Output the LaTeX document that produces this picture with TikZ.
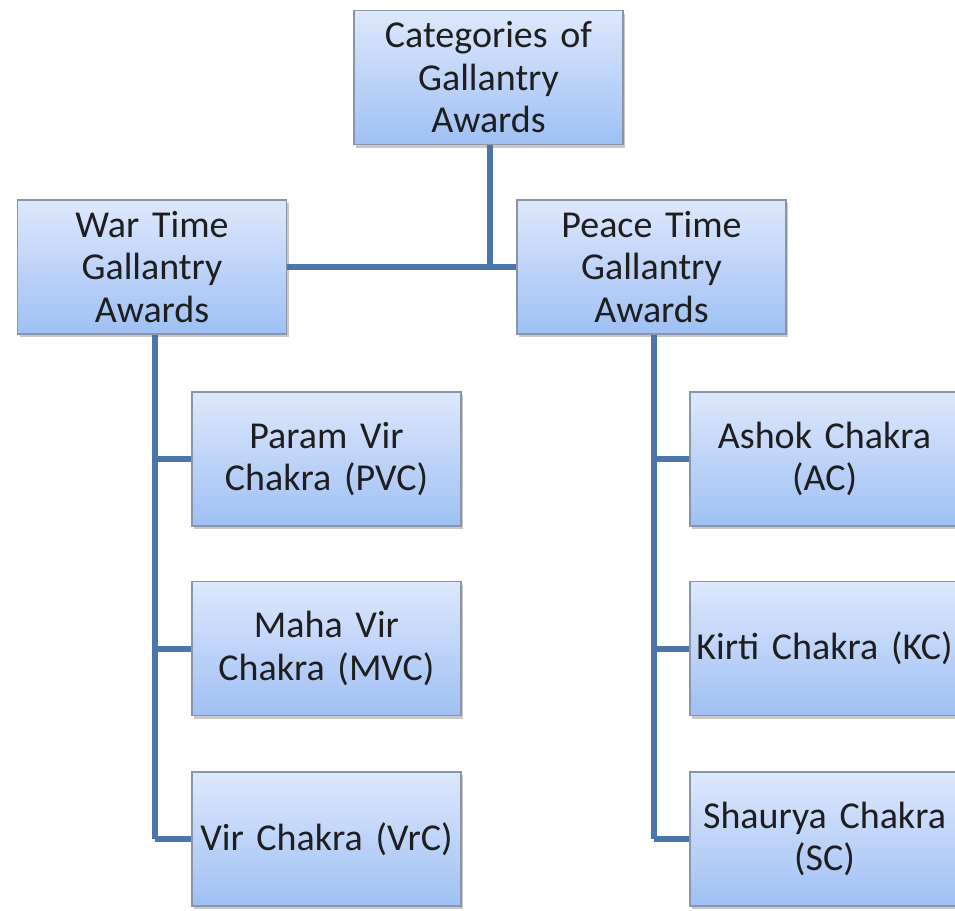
\documentclass[tikz,border=0pt]{standalone}
\usepackage{fontspec}
\setmainfont{Carlito}
\usetikzlibrary{shadows,backgrounds,calc}
\definecolor{boxtop}{HTML}{DDE8FC}
\definecolor{boxbot}{HTML}{9FC0F4}
\definecolor{boxline}{HTML}{8A96A8}
\definecolor{conncol}{HTML}{4A76AC}
\definecolor{txtcol}{HTML}{1E1E1E}
\tikzset{
  awardbox/.style={rectangle, draw=boxline, line width=1.2pt,
    top color=boxtop, bottom color=boxbot,
    minimum width=269pt, minimum height=134pt, inner sep=1pt,
    text width=266pt, align=center, text=txtcol,
    font={\fontsize{38pt}{42.5pt}\selectfont\spaceskip=0.22em\relax},
    drop shadow={shadow xshift=2pt, shadow yshift=-3pt, opacity=0.35, fill=black!60}},
  conn/.style={draw=conncol, line width=6pt}
}
\begin{document}
\begin{tikzpicture}[x=1pt,y=-1pt]
\useasboundingbox (0,0) rectangle (955,910);
\clip (0,0) rectangle (955,910);
\node[awardbox] (top) at (488.5,77.5) {Categories of\\Gallantry\\Awards};
\node[awardbox] (war) at (152,267) {War Time\\Gallantry\\Awards};
\node[awardbox] (peace) at (651.5,267) {Peace Time\\Gallantry\\Awards};
\node[awardbox] (pvc) at (326.5,459) {Param Vir\\Chakra (PVC)};
\node[awardbox] (mvc) at (326.5,648.5) {Maha Vir\\Chakra (MVC)};
\node[awardbox] (vrc) at (326.5,839) {Vir Chakra (VrC)};
\node[awardbox] (ac) at (824.5,459) {Ashok Chakra\\(AC)};
\node[awardbox] (kc) at (824.5,648.5) {Kirti Chakra (KC)};
\node[awardbox] (sc) at (824.5,839) {Shaurya Chakra\\(SC)};
\coordinate (lt) at (155,0);
\coordinate (rt) at (654,0);
\coordinate (mt) at (490,0);
\begin{scope}[on background layer]
\fill[white] (0,0) rectangle (955,910);
\draw[conn] (top.south -| mt) -- (war.east -| mt);
\draw[conn] (war.east) -- (peace.west);
\draw[conn] (war.south -| lt) -- (vrc.west -| lt);
\draw[conn] (pvc.west -| lt) -- (pvc.west);
\draw[conn] (mvc.west -| lt) -- (mvc.west);
\draw[conn] (vrc.west -| lt) -- (vrc.west);
\draw[conn] (peace.south -| rt) -- (sc.west -| rt);
\draw[conn] (ac.west -| rt) -- (ac.west);
\draw[conn] (kc.west -| rt) -- (kc.west);
\draw[conn] (sc.west -| rt) -- (sc.west);
\end{scope}
\end{tikzpicture}
\end{document}
